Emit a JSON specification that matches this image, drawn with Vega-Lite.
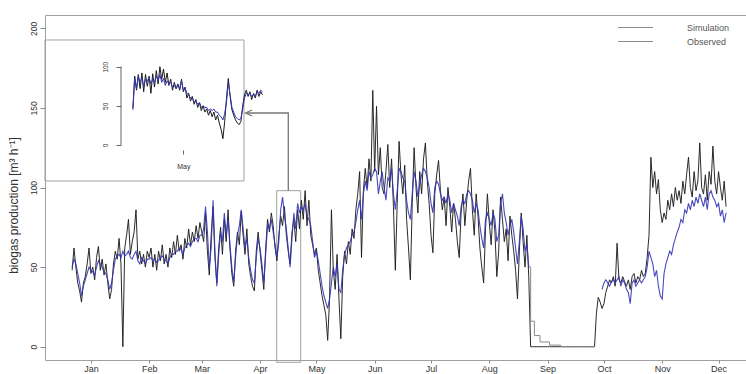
{
 "$schema": "https://vega.github.io/schema/vega-lite/v6.json",
 "width": 701,
 "height": 345,
 "autosize": {"type": "none"},
 "padding": {"left": 45, "top": 15, "right": 0, "bottom": 14},
 "background": "white",
 "config": {
  "font": "Liberation Sans",
  "view": {"stroke": "#a0a0a0", "strokeWidth": 1},
  "axis": {"grid": false, "domain": false, "tickColor": "#8c8c8c", "labelColor": "#333333", "titleColor": "#333333", "titleFontWeight": "normal", "labelFont": "Liberation Sans", "titleFont": "Liberation Sans"}
 },
 "datasets": {
  "boxes": [
   {"t1": "2012-12-07T13:48Z", "t2": "2013-03-23T11:00Z", "v1": 104.1, "v2": 192.65},
   {"t1": "2013-04-09T21:00Z", "t2": "2013-04-22T15:20Z", "v1": -9.8, "v2": 98}
  ],
  "arrow": [
   {"t": "2013-04-16T01:00Z", "v": 98, "part": "shaft", "i": 1},
   {"t": "2013-04-16T01:00Z", "v": 146.8, "part": "shaft", "i": 2},
   {"t": "2013-03-24T13:00Z", "v": 146.8, "part": "shaft", "i": 3},
   {"t": "2013-03-27T17:30Z", "v": 148.7, "part": "head", "i": 1},
   {"t": "2013-03-24T06:30Z", "v": 146.8, "part": "head", "i": 2},
   {"t": "2013-03-27T17:30Z", "v": 144.9, "part": "head", "i": 3}
  ],
  "off": [
   {"t": "2013-08-22", "v": 50},
   {"t": "2013-08-23", "v": 16},
   {"t": "2013-08-25", "v": 7},
   {"t": "2013-08-28", "v": 3},
   {"t": "2013-09-02", "v": 1},
   {"t": "2013-09-08", "v": 0},
   {"t": "2013-09-26", "v": 0}
  ],
  "insetAxis": [{"t": "2013-04-22T08:20Z", "a": 0, "b": 100}],
  "inset": [
   {"t":"2013-04-24T00:00Z","o":47,"s":45},{"t":"2013-04-24T06:00Z","o":88,"s":85},{"t":"2013-04-24T12:00Z","o":70,"s":72},{"t":"2013-04-24T18:00Z","o":90,"s":88},
   {"t":"2013-04-25T00:00Z","o":72,"s":80},{"t":"2013-04-25T06:00Z","o":92,"s":86},{"t":"2013-04-25T12:00Z","o":68,"s":75},{"t":"2013-04-25T18:00Z","o":90,"s":84},
   {"t":"2013-04-26T00:00Z","o":75,"s":82},{"t":"2013-04-26T06:00Z","o":88,"s":86},{"t":"2013-04-26T12:00Z","o":66,"s":78},{"t":"2013-04-26T18:00Z","o":91,"s":84},
   {"t":"2013-04-27T00:00Z","o":74,"s":80},{"t":"2013-04-27T06:00Z","o":95,"s":88},{"t":"2013-04-27T12:00Z","o":78,"s":82},{"t":"2013-04-27T18:00Z","o":100,"s":90},
   {"t":"2013-04-28T00:00Z","o":84,"s":80},{"t":"2013-04-28T06:00Z","o":97,"s":85},{"t":"2013-04-28T12:00Z","o":80,"s":76},{"t":"2013-04-28T18:00Z","o":92,"s":82},
   {"t":"2013-04-29T00:00Z","o":76,"s":78},{"t":"2013-04-29T06:00Z","o":84,"s":80},{"t":"2013-04-29T12:00Z","o":70,"s":74},{"t":"2013-04-29T18:00Z","o":80,"s":76},
   {"t":"2013-04-30T00:00Z","o":72,"s":72},{"t":"2013-04-30T06:00Z","o":78,"s":76},{"t":"2013-04-30T12:00Z","o":70,"s":72},{"t":"2013-04-30T18:00Z","o":84,"s":82},
   {"t":"2013-05-01T00:00Z","o":68,"s":70},{"t":"2013-05-01T06:00Z","o":74,"s":72},{"t":"2013-05-01T12:00Z","o":60,"s":66},{"t":"2013-05-01T18:00Z","o":66,"s":64},
   {"t":"2013-05-02T00:00Z","o":56,"s":60},{"t":"2013-05-02T06:00Z","o":62,"s":60},{"t":"2013-05-02T12:00Z","o":52,"s":55},{"t":"2013-05-02T18:00Z","o":58,"s":56},
   {"t":"2013-05-03T00:00Z","o":48,"s":52},{"t":"2013-05-03T06:00Z","o":54,"s":54},{"t":"2013-05-03T12:00Z","o":44,"s":48},{"t":"2013-05-03T18:00Z","o":50,"s":50},
   {"t":"2013-05-04T00:00Z","o":42,"s":48},{"t":"2013-05-04T06:00Z","o":46,"s":48},{"t":"2013-05-04T12:00Z","o":38,"s":44},{"t":"2013-05-04T18:00Z","o":44,"s":46},
   {"t":"2013-05-05T00:00Z","o":36,"s":44},{"t":"2013-05-05T06:00Z","o":42,"s":46},{"t":"2013-05-05T12:00Z","o":32,"s":42},{"t":"2013-05-05T18:00Z","o":38,"s":42},
   {"t":"2013-05-06T00:00Z","o":28,"s":38},{"t":"2013-05-06T06:00Z","o":20,"s":36},{"t":"2013-05-06T12:00Z","o":8,"s":32},{"t":"2013-05-06T18:00Z","o":30,"s":40},
   {"t":"2013-05-07T00:00Z","o":60,"s":55},{"t":"2013-05-07T06:00Z","o":85,"s":80},{"t":"2013-05-07T12:00Z","o":62,"s":64},{"t":"2013-05-07T18:00Z","o":45,"s":48},
   {"t":"2013-05-08T00:00Z","o":38,"s":42},{"t":"2013-05-08T06:00Z","o":32,"s":36},{"t":"2013-05-08T12:00Z","o":28,"s":34},{"t":"2013-05-08T18:00Z","o":26,"s":32},
   {"t":"2013-05-09T00:00Z","o":30,"s":34},{"t":"2013-05-09T06:00Z","o":50,"s":46},{"t":"2013-05-09T12:00Z","o":64,"s":60},{"t":"2013-05-09T18:00Z","o":70,"s":66},
   {"t":"2013-05-10T00:00Z","o":62,"s":64},{"t":"2013-05-10T06:00Z","o":68,"s":66},{"t":"2013-05-10T12:00Z","o":58,"s":62},{"t":"2013-05-10T18:00Z","o":66,"s":64},
   {"t":"2013-05-11T00:00Z","o":60,"s":62},{"t":"2013-05-11T06:00Z","o":70,"s":68},{"t":"2013-05-11T12:00Z","o":62,"s":66},{"t":"2013-05-11T18:00Z","o":68,"s":70},
   {"t":"2013-05-12T00:00Z","o":64,"s":68}
  ],
  "main": [
   {"t":"2012-12-22","o":48,"s":50},{"t":"2012-12-23","o":62,"s":55},{"t":"2012-12-24","o":50,"s":52},{"t":"2012-12-25","o":40,"s":46},{"t":"2012-12-26","o":35,"s":40},{"t":"2012-12-27","o":28,"s":32},{"t":"2012-12-28","o":40,"s":38},{"t":"2012-12-29","o":44,"s":42},{"t":"2012-12-30","o":52,"s":46},{"t":"2012-12-31","o":62,"s":50},
   {"t":"2013-01-01","o":46,"s":48},{"t":"2013-01-02","o":50,"s":47},{"t":"2013-01-03","o":42,"s":45},{"t":"2013-01-04","o":56,"s":50},{"t":"2013-01-05","o":63,"s":54},{"t":"2013-01-06","o":48,"s":52},{"t":"2013-01-07","o":55,"s":50},{"t":"2013-01-08","o":45,"s":47},{"t":"2013-01-09","o":52,"s":46},{"t":"2013-01-10","o":40,"s":42},
   {"t":"2013-01-11","o":30,"s":36},{"t":"2013-01-12","o":36,"s":40},{"t":"2013-01-13","o":52,"s":48},{"t":"2013-01-14","o":60,"s":55},{"t":"2013-01-15","o":55,"s":57},{"t":"2013-01-16","o":68,"s":58},{"t":"2013-01-17","o":52,"s":56},{"t":"2013-01-18","o":0,"s":60},{"t":"2013-01-19","o":62,"s":57},{"t":"2013-01-20","o":70,"s":58},
   {"t":"2013-01-21","o":80,"s":60},{"t":"2013-01-22","o":58,"s":56},{"t":"2013-01-23","o":66,"s":55},{"t":"2013-01-24","o":72,"s":58},{"t":"2013-01-25","o":86,"s":60},{"t":"2013-01-26","o":55,"s":54},{"t":"2013-01-27","o":60,"s":52},{"t":"2013-01-28","o":52,"s":56},{"t":"2013-01-29","o":58,"s":54},{"t":"2013-01-30","o":50,"s":52},{"t":"2013-01-31","o":60,"s":55},
   {"t":"2013-02-01","o":56,"s":55},{"t":"2013-02-02","o":62,"s":56},{"t":"2013-02-03","o":50,"s":54},{"t":"2013-02-04","o":58,"s":55},{"t":"2013-02-05","o":48,"s":53},{"t":"2013-02-06","o":60,"s":54},{"t":"2013-02-07","o":54,"s":56},{"t":"2013-02-08","o":64,"s":57},{"t":"2013-02-09","o":52,"s":55},{"t":"2013-02-10","o":58,"s":54},
   {"t":"2013-02-11","o":50,"s":52},{"t":"2013-02-12","o":62,"s":56},{"t":"2013-02-13","o":56,"s":58},{"t":"2013-02-14","o":66,"s":58},{"t":"2013-02-15","o":58,"s":60},{"t":"2013-02-16","o":70,"s":60},{"t":"2013-02-17","o":60,"s":62},{"t":"2013-02-18","o":64,"s":61},{"t":"2013-02-19","o":55,"s":58},{"t":"2013-02-20","o":68,"s":62},
   {"t":"2013-02-21","o":62,"s":64},{"t":"2013-02-22","o":74,"s":65},{"t":"2013-02-23","o":64,"s":63},{"t":"2013-02-24","o":72,"s":66},{"t":"2013-02-25","o":66,"s":68},{"t":"2013-02-26","o":76,"s":68},{"t":"2013-02-27","o":68,"s":66},{"t":"2013-02-28","o":78,"s":70},
   {"t":"2013-03-01","o":72,"s":70},{"t":"2013-03-02","o":66,"s":74},{"t":"2013-03-03","o":84,"s":88},{"t":"2013-03-04","o":60,"s":72},{"t":"2013-03-05","o":45,"s":50},{"t":"2013-03-06","o":70,"s":62},{"t":"2013-03-07","o":88,"s":92},{"t":"2013-03-08","o":56,"s":60},{"t":"2013-03-09","o":40,"s":38},{"t":"2013-03-10","o":62,"s":58},
   {"t":"2013-03-11","o":75,"s":72},{"t":"2013-03-12","o":58,"s":66},{"t":"2013-03-13","o":80,"s":84},{"t":"2013-03-14","o":66,"s":70},{"t":"2013-03-15","o":86,"s":80},{"t":"2013-03-16","o":62,"s":64},{"t":"2013-03-17","o":46,"s":50},{"t":"2013-03-18","o":38,"s":40},{"t":"2013-03-19","o":60,"s":56},{"t":"2013-03-20","o":72,"s":70},
   {"t":"2013-03-21","o":64,"s":76},{"t":"2013-03-22","o":85,"s":86},{"t":"2013-03-23","o":70,"s":74},{"t":"2013-03-24","o":58,"s":62},{"t":"2013-03-25","o":74,"s":68},{"t":"2013-03-26","o":52,"s":56},{"t":"2013-03-27","o":44,"s":48},{"t":"2013-03-28","o":38,"s":42},{"t":"2013-03-29","o":35,"s":40},{"t":"2013-03-30","o":60,"s":56},{"t":"2013-03-31","o":72,"s":68},
   {"t":"2013-04-01","o":60,"s":62},{"t":"2013-04-02","o":48,"s":52},{"t":"2013-04-03","o":36,"s":40},{"t":"2013-04-04","o":62,"s":58},{"t":"2013-04-05","o":80,"s":76},{"t":"2013-04-06","o":72,"s":74},{"t":"2013-04-07","o":84,"s":80},{"t":"2013-04-08","o":76,"s":72},{"t":"2013-04-09","o":62,"s":64},{"t":"2013-04-10","o":54,"s":56},
   {"t":"2013-04-11","o":70,"s":66},{"t":"2013-04-12","o":82,"s":86},{"t":"2013-04-13","o":76,"s":94},{"t":"2013-04-14","o":88,"s":82},{"t":"2013-04-15","o":70,"s":74},{"t":"2013-04-16","o":60,"s":62},{"t":"2013-04-17","o":52,"s":50},{"t":"2013-04-18","o":72,"s":68},{"t":"2013-04-19","o":80,"s":84},{"t":"2013-04-20","o":66,"s":74},
   {"t":"2013-04-21","o":86,"s":90},{"t":"2013-04-22","o":74,"s":84},{"t":"2013-04-23","o":92,"s":88},{"t":"2013-04-24","o":80,"s":86},{"t":"2013-04-25","o":98,"s":90},{"t":"2013-04-26","o":76,"s":82},{"t":"2013-04-27","o":92,"s":80},{"t":"2013-04-28","o":70,"s":76},{"t":"2013-04-29","o":64,"s":66},{"t":"2013-04-30","o":58,"s":56},
   {"t":"2013-05-01","o":62,"s":60},{"t":"2013-05-02","o":48,"s":54},{"t":"2013-05-03","o":40,"s":46},{"t":"2013-05-04","o":32,"s":38},{"t":"2013-05-05","o":26,"s":32},{"t":"2013-05-06","o":20,"s":28},{"t":"2013-05-07","o":4,"s":24},{"t":"2013-05-08","o":30,"s":30},{"t":"2013-05-09","o":86,"s":40},{"t":"2013-05-10","o":48,"s":50},
   {"t":"2013-05-11","o":36,"s":44},{"t":"2013-05-12","o":58,"s":52},{"t":"2013-05-13","o":30,"s":36},{"t":"2013-05-14","o":5,"s":34},{"t":"2013-05-15","o":44,"s":48},{"t":"2013-05-16","o":60,"s":58},{"t":"2013-05-17","o":52,"s":62},{"t":"2013-05-18","o":66,"s":64},{"t":"2013-05-19","o":58,"s":66},{"t":"2013-05-20","o":74,"s":70},
   {"t":"2013-05-21","o":68,"s":72},{"t":"2013-05-22","o":86,"s":78},{"t":"2013-05-23","o":96,"s":86},{"t":"2013-05-24","o":110,"s":92},{"t":"2013-05-25","o":56,"s":80},{"t":"2013-05-26","o":98,"s":96},{"t":"2013-05-27","o":112,"s":104},{"t":"2013-05-28","o":100,"s":98},{"t":"2013-05-29","o":118,"s":110},{"t":"2013-05-30","o":104,"s":106},{"t":"2013-05-31","o":161,"s":108},
   {"t":"2013-06-01","o":110,"s":112},{"t":"2013-06-02","o":151,"s":110},{"t":"2013-06-03","o":108,"s":96},{"t":"2013-06-04","o":125,"s":104},{"t":"2013-06-05","o":100,"s":110},{"t":"2013-06-06","o":96,"s":100},{"t":"2013-06-07","o":110,"s":92},{"t":"2013-06-08","o":127,"s":106},{"t":"2013-06-09","o":100,"s":104},{"t":"2013-06-10","o":118,"s":112},
   {"t":"2013-06-11","o":88,"s":96},{"t":"2013-06-12","o":48,"s":86},{"t":"2013-06-13","o":90,"s":98},{"t":"2013-06-14","o":129,"s":112},{"t":"2013-06-15","o":108,"s":110},{"t":"2013-06-16","o":96,"s":106},{"t":"2013-06-17","o":114,"s":104},{"t":"2013-06-18","o":80,"s":92},{"t":"2013-06-19","o":62,"s":84},{"t":"2013-06-20","o":42,"s":80},
   {"t":"2013-06-21","o":90,"s":96},{"t":"2013-06-22","o":125,"s":110},{"t":"2013-06-23","o":100,"s":104},{"t":"2013-06-24","o":84,"s":94},{"t":"2013-06-25","o":110,"s":102},{"t":"2013-06-26","o":96,"s":108},{"t":"2013-06-27","o":118,"s":112},{"t":"2013-06-28","o":128,"s":110},{"t":"2013-06-29","o":104,"s":106},{"t":"2013-06-30","o":90,"s":100},
   {"t":"2013-07-01","o":70,"s":90},{"t":"2013-07-02","o":59,"s":84},{"t":"2013-07-03","o":96,"s":100},{"t":"2013-07-04","o":108,"s":104},{"t":"2013-07-05","o":117,"s":102},{"t":"2013-07-06","o":98,"s":96},{"t":"2013-07-07","o":86,"s":92},{"t":"2013-07-08","o":94,"s":94},{"t":"2013-07-09","o":76,"s":90},{"t":"2013-07-10","o":100,"s":96},
   {"t":"2013-07-11","o":88,"s":92},{"t":"2013-07-12","o":72,"s":84},{"t":"2013-07-13","o":90,"s":90},{"t":"2013-07-14","o":80,"s":86},{"t":"2013-07-15","o":66,"s":82},{"t":"2013-07-16","o":56,"s":76},{"t":"2013-07-17","o":84,"s":88},{"t":"2013-07-18","o":96,"s":92},{"t":"2013-07-19","o":76,"s":90},{"t":"2013-07-20","o":92,"s":96},
   {"t":"2013-07-21","o":104,"s":98},{"t":"2013-07-22","o":112,"s":96},{"t":"2013-07-23","o":86,"s":92},{"t":"2013-07-24","o":70,"s":84},{"t":"2013-07-25","o":96,"s":90},{"t":"2013-07-26","o":82,"s":86},{"t":"2013-07-27","o":62,"s":76},{"t":"2013-07-28","o":50,"s":68},{"t":"2013-07-29","o":40,"s":62},{"t":"2013-07-30","o":74,"s":80},{"t":"2013-07-31","o":96,"s":84},
   {"t":"2013-08-01","o":78,"s":80},{"t":"2013-08-02","o":64,"s":76},{"t":"2013-08-03","o":86,"s":84},{"t":"2013-08-04","o":72,"s":80},{"t":"2013-08-05","o":44,"s":66},{"t":"2013-08-06","o":60,"s":70},{"t":"2013-08-07","o":94,"s":90},{"t":"2013-08-08","o":80,"s":96},{"t":"2013-08-09","o":66,"s":84},{"t":"2013-08-10","o":74,"s":78},
   {"t":"2013-08-11","o":54,"s":70},{"t":"2013-08-12","o":82,"s":76},{"t":"2013-08-13","o":70,"s":80},{"t":"2013-08-14","o":60,"s":72},{"t":"2013-08-15","o":48,"s":62},{"t":"2013-08-16","o":30,"s":52},{"t":"2013-08-17","o":60,"s":66},{"t":"2013-08-18","o":84,"s":82},{"t":"2013-08-19","o":66,"s":74},{"t":"2013-08-20","o":50,"s":60},
   {"t":"2013-08-21","o":70,"s":64},{"t":"2013-08-22","o":44,"s":50},{"t":"2013-08-23","o":0},{"t":"2013-08-24","o":0},{"t":"2013-08-25","o":0},{"t":"2013-08-26","o":0},{"t":"2013-08-27","o":0},{"t":"2013-08-28","o":0},{"t":"2013-08-29","o":0},{"t":"2013-08-30","o":0},{"t":"2013-08-31","o":0},
   {"t":"2013-09-01","o":0},{"t":"2013-09-02","o":0},{"t":"2013-09-03","o":0},{"t":"2013-09-04","o":0},{"t":"2013-09-05","o":0},{"t":"2013-09-06","o":0},{"t":"2013-09-07","o":0},{"t":"2013-09-08","o":0},{"t":"2013-09-09","o":0},{"t":"2013-09-10","o":0},
   {"t":"2013-09-11","o":0},{"t":"2013-09-12","o":0},{"t":"2013-09-13","o":0},{"t":"2013-09-14","o":0},{"t":"2013-09-15","o":0},{"t":"2013-09-16","o":0},{"t":"2013-09-17","o":0},{"t":"2013-09-18","o":0},{"t":"2013-09-19","o":0},{"t":"2013-09-20","o":0},
   {"t":"2013-09-21","o":0},{"t":"2013-09-22","o":0},{"t":"2013-09-23","o":0},{"t":"2013-09-24","o":0},{"t":"2013-09-25","o":0},{"t":"2013-09-26","o":0},{"t":"2013-09-27","o":21},{"t":"2013-09-28","o":31},{"t":"2013-09-29","o":28},{"t":"2013-09-30","o":24,"s":36},
   {"t":"2013-10-01","o":27,"s":40},{"t":"2013-10-02","o":34,"s":42},{"t":"2013-10-03","o":38,"s":40},{"t":"2013-10-04","o":42,"s":38},{"t":"2013-10-05","o":40,"s":41},{"t":"2013-10-06","o":44,"s":42},{"t":"2013-10-07","o":38,"s":40},{"t":"2013-10-08","o":65,"s":42},{"t":"2013-10-09","o":42,"s":44},{"t":"2013-10-10","o":40,"s":38},
   {"t":"2013-10-11","o":44,"s":42},{"t":"2013-10-12","o":41,"s":40},{"t":"2013-10-13","o":38,"s":36},{"t":"2013-10-14","o":42,"s":34},{"t":"2013-10-15","o":36,"s":27},{"t":"2013-10-16","o":44,"s":40},{"t":"2013-10-17","o":46,"s":42},{"t":"2013-10-18","o":40,"s":38},{"t":"2013-10-19","o":44,"s":40},{"t":"2013-10-20","o":42,"s":42},
   {"t":"2013-10-21","o":48,"s":40},{"t":"2013-10-22","o":44,"s":42},{"t":"2013-10-23","o":46,"s":44},{"t":"2013-10-24","o":56,"s":50},{"t":"2013-10-25","o":70,"s":60},{"t":"2013-10-26","o":119,"s":56},{"t":"2013-10-27","o":100,"s":52},{"t":"2013-10-28","o":110,"s":44},{"t":"2013-10-29","o":96,"s":48},{"t":"2013-10-30","o":105,"s":38},{"t":"2013-10-31","o":86,"s":32},
   {"t":"2013-11-01","o":78,"s":30},{"t":"2013-11-02","o":84,"s":46},{"t":"2013-11-03","o":80,"s":52},{"t":"2013-11-04","o":92,"s":56},{"t":"2013-11-05","o":86,"s":60},{"t":"2013-11-06","o":96,"s":58},{"t":"2013-11-07","o":88,"s":64},{"t":"2013-11-08","o":100,"s":68},{"t":"2013-11-09","o":92,"s":72},{"t":"2013-11-10","o":98,"s":75},
   {"t":"2013-11-11","o":90,"s":80},{"t":"2013-11-12","o":104,"s":78},{"t":"2013-11-13","o":96,"s":86},{"t":"2013-11-14","o":108,"s":84},{"t":"2013-11-15","o":119,"s":90},{"t":"2013-11-16","o":100,"s":86},{"t":"2013-11-17","o":94,"s":92},{"t":"2013-11-18","o":110,"s":88},{"t":"2013-11-19","o":98,"s":94},{"t":"2013-11-20","o":104,"s":90},
   {"t":"2013-11-21","o":128,"s":96},{"t":"2013-11-22","o":100,"s":92},{"t":"2013-11-23","o":96,"s":88},{"t":"2013-11-24","o":108,"s":94},{"t":"2013-11-25","o":92,"s":86},{"t":"2013-11-26","o":110,"s":96},{"t":"2013-11-27","o":102,"s":98},{"t":"2013-11-28","o":126,"s":94},{"t":"2013-11-29","o":104,"s":92},{"t":"2013-11-30","o":96,"s":88},
   {"t":"2013-12-01","o":110,"s":90},{"t":"2013-12-02","o":100,"s":82},{"t":"2013-12-03","o":92,"s":86},{"t":"2013-12-04","o":104,"s":78},{"t":"2013-12-05","o":88,"s":84}
  ]
 },
 "layer": [
  {
   "data": {"name": "boxes"},
   "mark": {"type": "rect", "filled": false, "stroke": "#a0a0a0", "strokeWidth": 1},
   "encoding": {
    "x": {"field": "t1", "type": "temporal", "scale": {"type": "utc", "domain": [1354888055000, 1387117941000]}, "axis": null},
    "x2": {"field": "t2"},
    "y": {"field": "v1", "type": "quantitative", "scale": {"domain": [-8.35, 208.35], "nice": false, "zero": false}, "axis": null},
    "y2": {"field": "v2"}
   }
  },
  {
   "data": {"name": "arrow"},
   "mark": {"type": "line", "color": "#777777", "strokeWidth": 1.3},
   "encoding": {
    "x": {"field": "t", "type": "temporal", "scale": {"type": "utc", "domain": [1354888055000, 1387117941000]}, "axis": null},
    "y": {"field": "v", "type": "quantitative", "scale": {"domain": [-8.35, 208.35], "nice": false, "zero": false}, "axis": null},
    "detail": {"field": "part"},
    "order": {"field": "i", "type": "quantitative"}
   }
  },
  {
   "data": {"name": "main"},
   "mark": {"type": "line", "color": "#1f1f1f", "strokeWidth": 0.95},
   "encoding": {
    "x": {"field": "t", "type": "temporal", "scale": {"type": "utc", "domain": [1354888055000, 1387117941000]},
     "axis": {"orient": "bottom", "title": null, "labelExpr": "utcFormat(datum.value, '%b')", "tickCount": {"interval": "month", "step": 1}, "tickSize": 3, "labelPadding": 1, "labelFontSize": 9, "labelOverlap": false, "labelFlush": false}},
    "y": {"field": "o", "type": "quantitative", "scale": {"domain": [-8.35, 208.35], "nice": false, "zero": false},
     "axis": {"orient": "left", "values": [0, 50, 100, 150, 200], "title": "biogas production [m³ h⁻¹]", "titleFontSize": 12, "titleAngle": 270, "titleAlign": "center", "titleBaseline": "middle", "titleX": -32, "titleY": 190, "tickSize": 5, "labelPadding": 2, "labelFontSize": 8.5, "labelAngle": -90, "labelAlign": "center", "labelBaseline": "bottom"}}
   }
  },
  {
   "data": {"name": "off"},
   "mark": {"type": "line", "color": "#8a8a8a", "interpolate": "step-after"},
   "encoding": {
    "x": {"field": "t", "type": "temporal", "scale": {"type": "utc", "domain": [1354888055000, 1387117941000]}, "axis": null},
    "y": {"field": "v", "type": "quantitative", "scale": {"domain": [-8.35, 208.35], "nice": false, "zero": false}, "axis": null},
    "strokeWidth": {"datum": "Simulation", "type": "ordinal",
     "scale": {"domain": ["Simulation", "Observed"], "range": [1, 1]},
     "legend": {"orient": "none", "legendX": 584, "legendY": 6, "title": null, "direction": "vertical", "symbolType": "M-3,0H3", "symbolSize": 136, "labelFontSize": 9, "labelColor": "#555555", "labelOffset": 45, "rowPadding": 2, "padding": 0}}
   }
  },
  {
   "data": {"name": "main"},
   "mark": {"type": "line", "color": "#3535b5", "strokeWidth": 1.1, "opacity": 0.9},
   "encoding": {
    "x": {"field": "t", "type": "temporal", "scale": {"type": "utc", "domain": [1354888055000, 1387117941000]}, "axis": null},
    "y": {"field": "s", "type": "quantitative", "scale": {"domain": [-8.35, 208.35], "nice": false, "zero": false}, "axis": null}
   }
  },
  {
   "data": {"name": "insetAxis"},
   "mark": {"type": "rule", "color": "#666666", "strokeWidth": 1},
   "encoding": {
    "x": {"field": "t", "type": "temporal", "scale": {"type": "utc", "domain": [1365706800000, 1374118800000]}, "axis": null},
    "y": {"field": "a", "type": "quantitative", "scale": {"domain": [-274.6, 166.03], "nice": false, "zero": false}, "axis": null},
    "y2": {"field": "b"}
   }
  },
  {
   "data": {"name": "inset"},
   "mark": {"type": "line", "color": "#1a1a1a", "strokeWidth": 1},
   "encoding": {
    "x": {"field": "t", "type": "temporal", "scale": {"type": "utc", "domain": [1365706800000, 1374118800000]},
     "axis": {"orient": "bottom", "offset": -210, "title": null, "values": [{"year": 2013, "month": 5, "date": 1, "utc": true}], "labelExpr": "utcFormat(datum.value, '%b')", "tickSize": 4, "tickColor": "#666666", "labelColor": "#333333", "labelPadding": 8, "labelFontSize": 7}},
    "y": {"field": "o", "type": "quantitative", "scale": {"domain": [-274.6, 166.03], "nice": false, "zero": false},
     "axis": {"orient": "left", "offset": -76, "title": null, "values": [0, 50, 100], "tickSize": 5, "tickColor": "#666666", "labelColor": "#333333", "labelPadding": 8, "labelFontSize": 6.5, "labelAngle": -90, "labelAlign": "center", "labelBaseline": "bottom"}}
   }
  },
  {
   "data": {"name": "inset"},
   "mark": {"type": "line", "color": "#3535b5", "strokeWidth": 1},
   "encoding": {
    "x": {"field": "t", "type": "temporal", "scale": {"type": "utc", "domain": [1365706800000, 1374118800000]}, "axis": null},
    "y": {"field": "s", "type": "quantitative", "scale": {"domain": [-274.6, 166.03], "nice": false, "zero": false}, "axis": null}
   }
  }
 ],
 "resolve": {"scale": {"x": "independent", "y": "independent"}}
}
